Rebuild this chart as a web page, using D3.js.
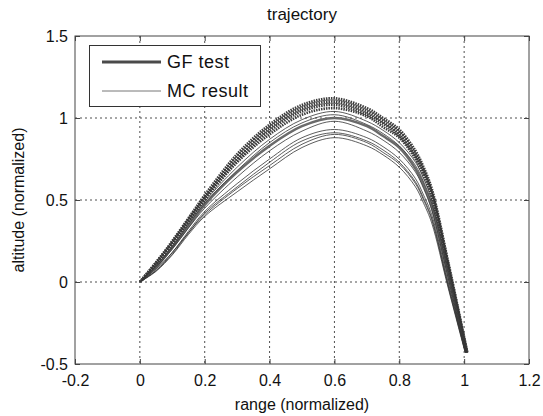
<!DOCTYPE html>
<html>
<head>
<meta charset="utf-8">
<script src="https://d3js.org/d3.v7.min.js"></script>
<style>
  body { margin: 0; background: #fff; }
  text { font-family: "Liberation Sans", Arial, Helvetica, sans-serif; fill: #111; }
</style>
</head>
<body>
<div id="chart"></div>
<script>
// tick values
const xTicks = [-0.2, 0, 0.2, 0.4, 0.6, 0.8, 1, 1.2];
const yTicks = [-0.5, 0, 0.5, 1, 1.5];

// GF test runs (thick lines), [range, altitude]
const gf1 = [[0,0],[0.05,0.12],[0.1,0.25],[0.15,0.39],[0.2,0.53],[0.3,0.78],[0.4,0.96],[0.5,1.08],[0.6,1.12],[0.7,1.06],[0.75,1.00],[0.8,0.93],[0.85,0.80],[0.875,0.70],[0.9,0.57],[0.95,0.13],[1.01,-0.43]];
const gf2 = [[0,0],[0.05,0.12],[0.1,0.24],[0.15,0.38],[0.2,0.52],[0.3,0.76],[0.4,0.94],[0.5,1.06],[0.6,1.10],[0.7,1.04],[0.75,0.98],[0.8,0.91],[0.85,0.78],[0.875,0.68],[0.9,0.55],[0.95,0.12],[1.009,-0.43]];
const gf3 = [[0,0],[0.05,0.11],[0.1,0.24],[0.15,0.37],[0.2,0.51],[0.3,0.74],[0.4,0.92],[0.5,1.04],[0.6,1.08],[0.7,1.02],[0.75,0.965],[0.8,0.89],[0.85,0.765],[0.875,0.665],[0.9,0.54],[0.95,0.10],[1.009,-0.43]];
const gf4 = [[0,0],[0.05,0.11],[0.1,0.23],[0.15,0.37],[0.2,0.50],[0.3,0.73],[0.4,0.90],[0.5,1.02],[0.6,1.06],[0.7,1.01],[0.75,0.945],[0.8,0.88],[0.85,0.75],[0.875,0.65],[0.9,0.52],[0.95,0.09],[1.008,-0.43]];
const gf5 = [[0,0],[0.05,0.09],[0.1,0.21],[0.15,0.34],[0.2,0.47],[0.3,0.67],[0.4,0.83],[0.5,0.95],[0.6,1.00],[0.7,0.95],[0.75,0.89],[0.8,0.82],[0.85,0.69],[0.875,0.59],[0.9,0.46],[0.95,0.05],[1.006,-0.43]];

// MC runs (thin lines)
const mc1 = [[0,0],[0.05,0.12],[0.1,0.25],[0.15,0.39],[0.2,0.52],[0.3,0.77],[0.4,0.95],[0.5,1.07],[0.6,1.11],[0.7,1.05],[0.75,0.99],[0.8,0.92],[0.85,0.79],[0.875,0.69],[0.9,0.56],[0.95,0.12],[1.01,-0.43]];
const mc2 = [[0,0],[0.05,0.11],[0.1,0.24],[0.15,0.38],[0.2,0.51],[0.3,0.75],[0.4,0.93],[0.5,1.05],[0.6,1.09],[0.7,1.03],[0.75,0.97],[0.8,0.90],[0.85,0.77],[0.875,0.67],[0.9,0.545],[0.95,0.11],[1.009,-0.43]];
const mc3 = [[0,0],[0.05,0.10],[0.1,0.22],[0.15,0.36],[0.2,0.49],[0.3,0.70],[0.4,0.87],[0.5,0.99],[0.6,1.04],[0.7,0.98],[0.75,0.925],[0.8,0.85],[0.85,0.73],[0.875,0.63],[0.9,0.50],[0.95,0.08],[1.008,-0.43]];
const mc4 = [[0,0],[0.05,0.10],[0.1,0.21],[0.15,0.35],[0.2,0.48],[0.3,0.68],[0.4,0.85],[0.5,0.97],[0.6,1.02],[0.7,0.96],[0.75,0.905],[0.8,0.83],[0.85,0.71],[0.875,0.61],[0.9,0.48],[0.95,0.06],[1.007,-0.43]];
const mc5 = [[0,0],[0.05,0.09],[0.1,0.20],[0.15,0.33],[0.2,0.45],[0.3,0.64],[0.4,0.80],[0.5,0.92],[0.6,0.98],[0.7,0.92],[0.75,0.865],[0.8,0.79],[0.85,0.67],[0.875,0.57],[0.9,0.44],[0.95,0.03],[1.006,-0.43]];
const mc6 = [[0,0],[0.05,0.08],[0.1,0.18],[0.15,0.31],[0.2,0.43],[0.3,0.60],[0.4,0.75],[0.5,0.88],[0.6,0.93],[0.7,0.88],[0.75,0.825],[0.8,0.75],[0.85,0.63],[0.875,0.53],[0.9,0.41],[0.95,0.005],[1.005,-0.43]];
const mc7 = [[0,0],[0.05,0.07],[0.1,0.18],[0.15,0.30],[0.2,0.42],[0.3,0.58],[0.4,0.73],[0.5,0.86],[0.6,0.91],[0.7,0.86],[0.75,0.805],[0.8,0.73],[0.85,0.61],[0.875,0.51],[0.9,0.39],[0.95,-0.01],[1.004,-0.43]];
const mc8 = [[0,0],[0.05,0.07],[0.1,0.17],[0.15,0.30],[0.2,0.41],[0.3,0.57],[0.4,0.71],[0.5,0.84],[0.6,0.90],[0.7,0.85],[0.75,0.79],[0.8,0.72],[0.85,0.60],[0.875,0.50],[0.9,0.38],[0.95,-0.02],[1.004,-0.43]];
const mc9 = [[0,0],[0.05,0.065],[0.1,0.165],[0.15,0.29],[0.2,0.40],[0.3,0.55],[0.4,0.69],[0.5,0.82],[0.6,0.88],[0.7,0.83],[0.75,0.775],[0.8,0.70],[0.85,0.58],[0.875,0.48],[0.9,0.36],[0.95,-0.03],[1.003,-0.43]];

const gfRuns = [gf1, gf2, gf3, gf4];
const mcRuns = [mc1, mc2, mc3, mc4, mc5, mc6, mc7, mc8, mc9];

const W = 543, H = 416;
const m = {left: 75, right: 14, top: 36, bottom: 52};
const iw = W - m.left - m.right, ih = H - m.top - m.bottom;

const svg = d3.select('#chart').append('svg')
  .attr('width', W).attr('height', H);

const x = d3.scaleLinear().domain([-0.2, 1.2]).range([m.left, m.left + iw]);
const y = d3.scaleLinear().domain([-0.5, 1.5]).range([m.top + ih, m.top]);
const fmt = d => String(d);

// grid
const grid = svg.append('g');
grid.selectAll('.gx').data(xTicks.slice(1, -1)).enter().append('line')
  .attr('x1', d => x(d)).attr('x2', d => x(d))
  .attr('y1', m.top).attr('y2', m.top + ih)
  .attr('stroke', '#222').attr('stroke-width', 0.8).attr('stroke-dasharray', '2,3');
grid.selectAll('.gy').data(yTicks.slice(1, -1)).enter().append('line')
  .attr('x1', m.left).attr('x2', m.left + iw)
  .attr('y1', d => y(d)).attr('y2', d => y(d))
  .attr('stroke', '#222').attr('stroke-width', 0.8).attr('stroke-dasharray', '2,3');

const line = d3.line().x(d => x(d[0])).y(d => y(d[1])).curve(d3.curveCatmullRom.alpha(0.5));

// GF band: thick lines drawn with a fine dash so they overlap into a hatched look
svg.append('g').selectAll('path').data(gfRuns).enter().append('path')
  .attr('d', line).attr('fill', 'none')
  .attr('stroke', '#3c3c3c').attr('stroke-width', 2.6).attr('stroke-dasharray', '1.5,1');

svg.append('path').datum(gf5)
  .attr('d', line).attr('fill', 'none')
  .attr('stroke', '#6a6a6a').attr('stroke-width', 2.5);

svg.append('g').selectAll('path').data(mcRuns).enter().append('path')
  .attr('d', line).attr('fill', 'none')
  .attr('stroke', '#333').attr('stroke-width', 0.8);

// axes, matlab style: ticks inward, box all round
const tickLen = 5;
svg.append('g').attr('transform', `translate(0,${m.top + ih})`)
  .call(d3.axisBottom(x).tickValues(xTicks).tickSizeInner(-tickLen).tickSizeOuter(0).tickPadding(11).tickFormat(fmt))
  .call(g => g.select('.domain').remove())
  .call(g => g.selectAll('line').attr('stroke', '#444'))
  .call(g => g.selectAll('text').attr('font-size', 16).attr('fill', '#111'));
svg.append('g').attr('transform', `translate(0,${m.top})`)
  .call(d3.axisTop(x).tickValues(xTicks).tickSizeInner(-tickLen).tickSizeOuter(0).tickFormat(''))
  .call(g => g.select('.domain').remove())
  .call(g => g.selectAll('line').attr('stroke', '#444'));
svg.append('g').attr('transform', `translate(${m.left},0)`)
  .call(d3.axisLeft(y).tickValues(yTicks).tickSizeInner(-tickLen).tickSizeOuter(0).tickPadding(7).tickFormat(fmt))
  .call(g => g.select('.domain').remove())
  .call(g => g.selectAll('line').attr('stroke', '#444'))
  .call(g => g.selectAll('text').attr('font-size', 16).attr('fill', '#111'));
svg.append('g').attr('transform', `translate(${m.left + iw},0)`)
  .call(d3.axisRight(y).tickValues(yTicks).tickSizeInner(-tickLen).tickSizeOuter(0).tickFormat(''))
  .call(g => g.select('.domain').remove())
  .call(g => g.selectAll('line').attr('stroke', '#444'));

svg.append('rect')
  .attr('x', m.left).attr('y', m.top).attr('width', iw).attr('height', ih)
  .attr('fill', 'none').attr('stroke', '#444').attr('stroke-width', 1);

// titles
svg.append('text').attr('x', m.left + iw / 2).attr('y', 20)
  .attr('text-anchor', 'middle').attr('font-size', 17).text('trajectory');
svg.append('text').attr('x', m.left + iw / 2).attr('y', 410)
  .attr('text-anchor', 'middle').attr('font-size', 16).text('range (normalized)');
svg.append('text').attr('transform', `translate(24,${m.top + ih / 2}) rotate(-90)`)
  .attr('text-anchor', 'middle').attr('font-size', 16).text('altitude (normalized)');

// legend
const lg = svg.append('g');
lg.append('rect').attr('x', 89.5).attr('y', 45.5).attr('width', 171).attr('height', 61)
  .attr('fill', '#fff').attr('stroke', '#333').attr('stroke-width', 1);
const items = [
  {label: 'GF test', yy: 62, w: 3, c: '#4a4a4a'},
  {label: 'MC result', yy: 91, w: 1, c: '#777'}
];
items.forEach(it => {
  lg.append('line').attr('x1', 102).attr('x2', 161).attr('y1', it.yy).attr('y2', it.yy)
    .attr('stroke', it.c).attr('stroke-width', it.w);
  lg.append('text').attr('x', 167).attr('y', it.yy + 6).attr('font-size', 18)
    .attr('letter-spacing', 0.5).text(it.label);
});
</script>
</body>
</html>
